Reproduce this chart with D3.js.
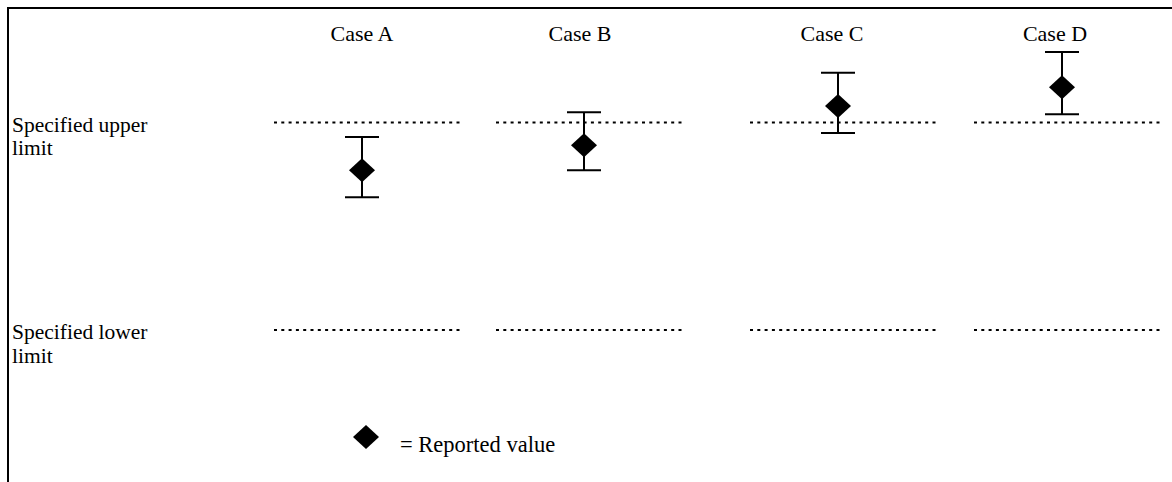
<!DOCTYPE html>
<html><head><meta charset="utf-8">
<script src="https://cdn.jsdelivr.net/npm/d3@7/dist/d3.min.js"></script>
<style>body{margin:0;background:#fff}svg{display:block}</style>
</head><body>
<script>
const cases = ["Case A", "Case B", "Case C", "Case D"];
const reported = [0.77, 0.89, 1.08, 1.17];
const lowerErr = [0.64, 0.77, 0.95, 1.04];
const upperErr = [0.93, 1.05, 1.24, 1.34];
const limitNames = ["Specified upper", "Specified lower"];
const limitValues = [1, 0];
const legendLabel = "= Reported value";

const W = 1172, H = 482;
const FONT = "'Liberation Serif', 'Times New Roman', Times, 'DejaVu Serif', serif";
const svg = d3.select("body").append("svg").attr("width", W).attr("height", H)
  .style("font-family", FONT);

const x = d3.scaleOrdinal().domain(cases).range([362, 584, 838, 1062]);
const y = d3.scaleLinear().domain([0, 1]).range([330, 122.5]);

// frame (top and left)
svg.append("line").attr("x1", 8).attr("x2", W).attr("y1", 8).attr("y2", 8).attr("stroke", "#000").attr("stroke-width", 2);
svg.append("line").attr("x1", 8).attr("x2", 8).attr("y1", 7).attr("y2", H).attr("stroke", "#000").attr("stroke-width", 2);

// limit labels + dotted segments
limitNames.forEach((name, k) => {
  const v = limitValues[k];
  const t = svg.append("text").attr("x", 12).attr("y", y(v) + 9)
    .attr("font-family", FONT).attr("font-size", 21.5).attr("fill", "#000");
  t.append("tspan").attr("x", 12).text(name);
  t.append("tspan").attr("x", 12).attr("dy", 23.5).text("limit");
  svg.selectAll(null).data(cases).enter().append("line")
    .attr("x1", d => x(d) - 88).attr("x2", d => x(d) + 101)
    .attr("y1", y(v)).attr("y2", y(v))
    .attr("stroke", "#000").attr("stroke-width", 2).attr("stroke-dasharray", "3,4.3");
});

// case labels
svg.selectAll(null).data(cases).enter().append("text")
  .attr("x", (d, i) => x(d) - [0, 4, 6, 7][i]).attr("y", 41).attr("text-anchor", "middle")
  .attr("font-family", FONT).attr("font-size", 22).attr("fill", "#000").text(d => d);

const dia = "M0,-12L13,0L0,12L-13,0Z";
const g = svg.selectAll("g.case").data(cases).enter().append("g").attr("class", "case");
g.append("line").attr("x1", d => x(d)).attr("x2", d => x(d))
  .attr("y1", (d, i) => y(upperErr[i])).attr("y2", (d, i) => y(lowerErr[i]))
  .attr("stroke", "#000").attr("stroke-width", 2);
g.append("line").attr("x1", d => x(d) - 17).attr("x2", d => x(d) + 17)
  .attr("y1", (d, i) => y(upperErr[i])).attr("y2", (d, i) => y(upperErr[i]))
  .attr("stroke", "#000").attr("stroke-width", 2);
g.append("line").attr("x1", d => x(d) - 17).attr("x2", d => x(d) + 17)
  .attr("y1", (d, i) => y(lowerErr[i])).attr("y2", (d, i) => y(lowerErr[i]))
  .attr("stroke", "#000").attr("stroke-width", 2);
g.append("path").attr("d", dia)
  .attr("transform", (d, i) => `translate(${x(d)},${y(reported[i])})`)
  .attr("fill", "#000");

// legend
svg.append("path").attr("d", dia).attr("transform", "translate(366,437)").attr("fill", "#000");
svg.append("text").attr("x", 400).attr("y", 452).attr("font-family", FONT).attr("font-size", 22.5)
  .attr("fill", "#000").text(legendLabel);
</script>
</body></html>
